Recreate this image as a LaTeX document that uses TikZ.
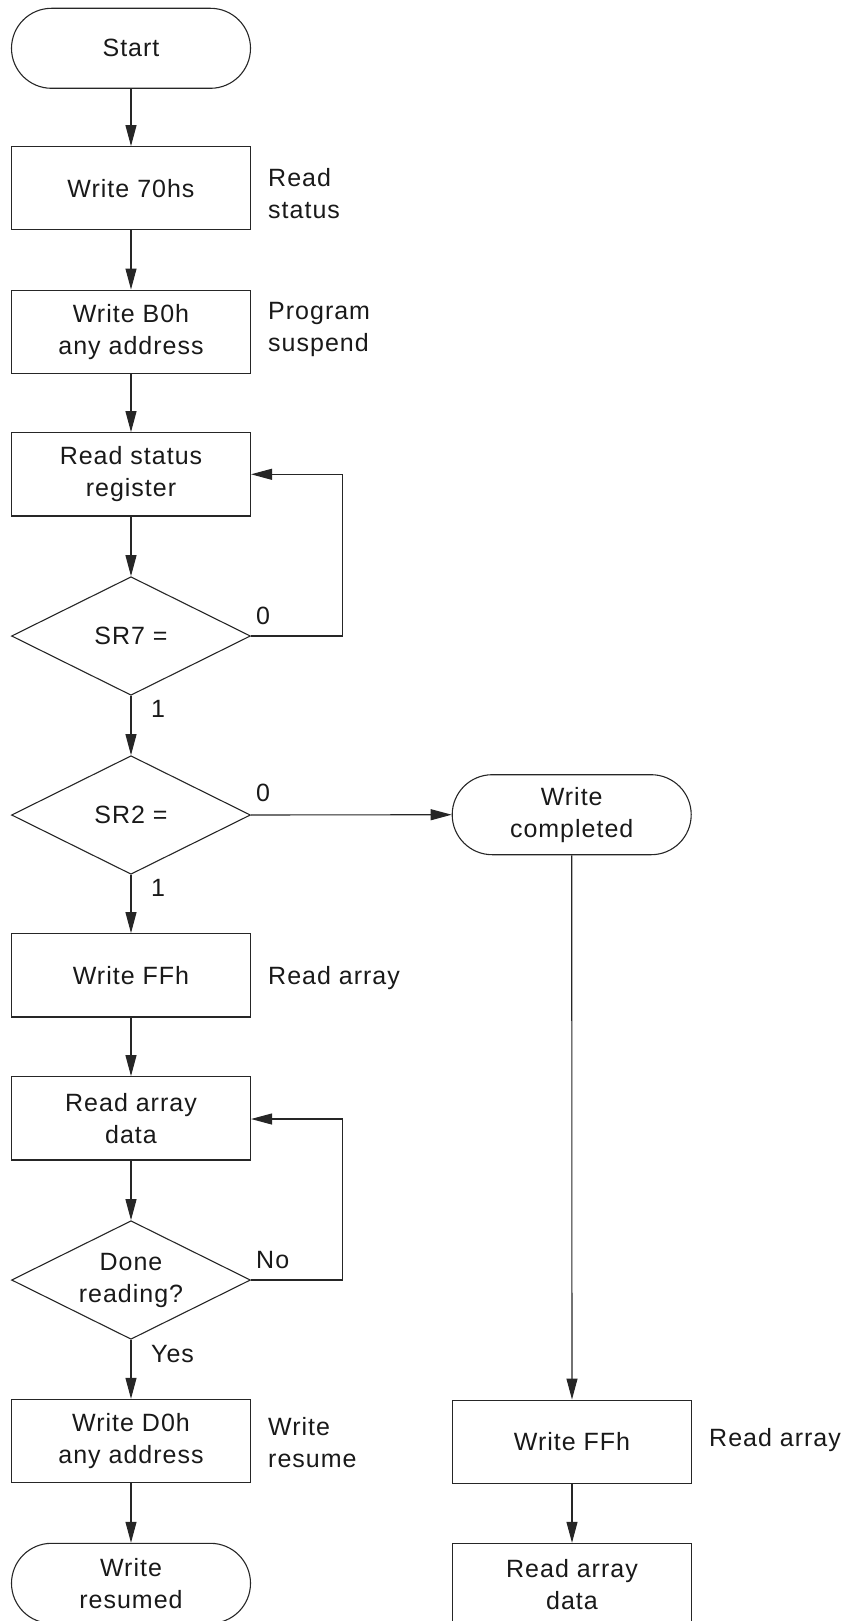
\documentclass[tikz,border=0pt]{standalone}
\usepackage{fontspec}
\setmainfont[LetterSpace=4]{Liberation Sans}
\usetikzlibrary{arrows.meta,shapes.geometric}

\begin{document}
\begin{tikzpicture}[x=1pt,y=-1pt,
  font=\fontsize{25}{32}\selectfont,
  every node/.style={text=black!90},
  line/.style={draw=black!85, line width=1.1pt},
  flow/.style={line, -{Triangle[length=21pt,width=11pt]}},
  stepbox/.style={line, rectangle, minimum width=239pt, minimum height=83.3pt,
    inner sep=0pt, align=center},
  terminal/.style={line, rectangle, rounded corners=40pt, minimum width=239pt,
    minimum height=80pt, inner sep=0pt, align=center},
  decision/.style={line, diamond, shape aspect=2, minimum width=239pt,
    minimum height=118.6pt, inner sep=0pt, align=center},
  note/.style={anchor=west, align=left, inner sep=0pt},
  branch/.style={anchor=west, inner sep=0pt}]

  \clip (0,0) rectangle (844,1621);

  % main column
  \node[terminal] (start) at (131,48.3) {Start};
  \node[stepbox]  (w70)   at (131,188.3) {Write 70hs};
  \node[stepbox]  (wb0)   at (131,331.7) {Write B0h\\any address};
  \node[stepbox]  (rsr)   at (131,474.3) {Read status\\register};
  \node[decision] (sr7)   at (131,636) {SR7 =};
  \node[decision] (sr2)   at (131,815) {SR2 =};
  \node[stepbox]  (wff)   at (131,975.3) {Write FFh};
  \node[stepbox]  (rad)   at (131,1118.3) {Read array\\data};
  \node[decision] (done)  at (131,1280) {Done\\reading?};
  \node[stepbox]  (wd0)   at (131,1441) {Write D0h\\any address};
  \node[terminal] (wres)  at (131,1583.3) {Write\\resumed};

  % completed branch
  \node[terminal] (wc)    at (571.7,814.7) {Write\\completed};
  \node[stepbox]  (wff2)  at (572,1441.7) {Write FFh};
  \node[stepbox]  (rad2)  at (572,1585) {Read array\\data};

  % side notes
  \node[note] (n70)  at (268,194) {Read\\status};
  \node[note] (nb0)  at (268,329.5) {Program\\suspend};
  \node[note] (nff)  at (268,978) {Read array};
  \node[note] (nd0)  at (268,1443) {Write\\resume};
  \node[note] (nff2) at (709,1440) {Read array};

  % branch labels
  \node[branch] (l70) at (256,615.5) {0};
  \node[branch] (l71) at (151,709) {1};
  \node[branch] (l20) at (256,793) {0};
  \node[branch] (l21) at (151,888) {1};
  \node[branch] (lno) at (256,1260) {No};
  \node[branch] (lye) at (151,1354) {Yes};

  % loop corners
  \coordinate (c7a) at (342.3,636);
  \coordinate (c7b) at (342.3,474.3);
  \coordinate (cda) at (342.3,1280);
  \coordinate (cdb) at (342.3,1119);

  % connectors
  \draw[flow] (start) -- (w70);
  \draw[flow] (w70) -- (wb0);
  \draw[flow] (wb0) -- (rsr);
  \draw[flow] (rsr) -- (sr7);
  \draw[flow] (sr7.south) -- (sr2.north);
  \draw[flow] (sr7.east) -- (c7a) -- (c7b) -- (rsr.east);
  \draw[flow] (sr2.south) -- (wff.north);
  \draw[flow] (sr2.east) -- (wc.west);
  \draw[flow] (wff) -- (rad);
  \draw[flow] (rad) -- (done);
  \draw[flow] (done.east) -- (cda) -- (cdb) -- (rad.east |- cdb);
  \draw[flow] (done.south) -- (wd0.north);
  \draw[flow] (wd0) -- (wres);
  \draw[flow] (wc.south) -- (wff2.north);
  \draw[flow] (wff2) -- (rad2);
\end{tikzpicture}
\end{document}
